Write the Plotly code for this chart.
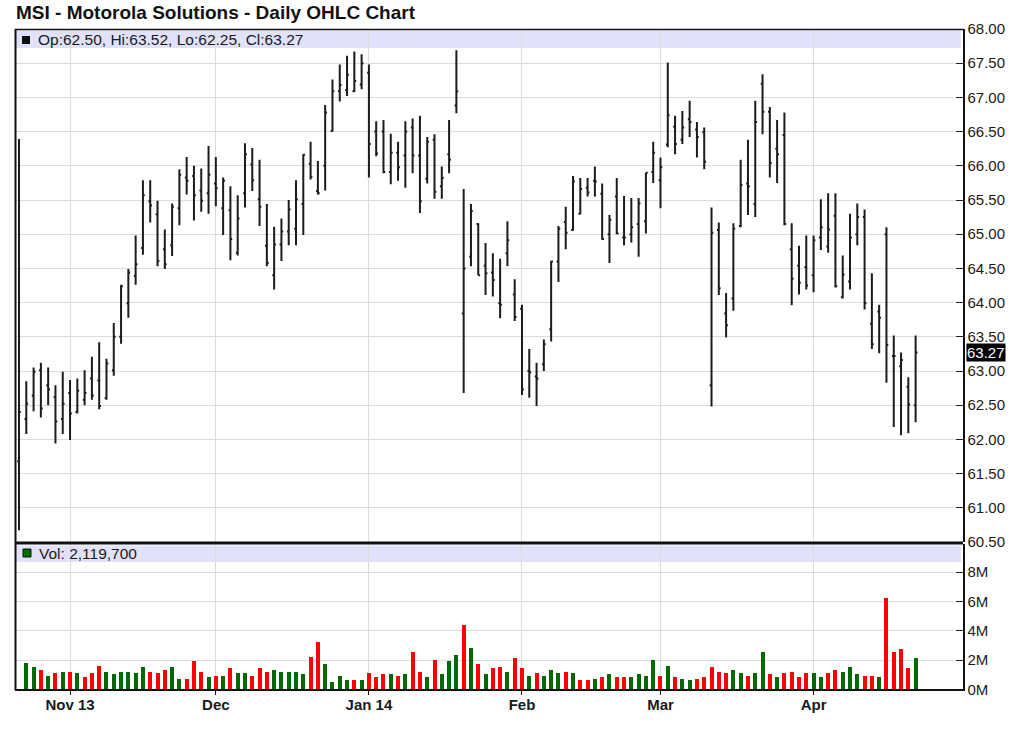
import plotly.graph_objects as go
import pandas as pd

# ---------------- data ----------------
holidays = ["2013-11-28", "2013-12-25", "2014-01-01", "2014-01-20", "2014-02-17", "2014-04-18"]
dates = pd.bdate_range("2013-10-23", "2014-04-22", freq="C", holidays=holidays)

opens = [61.68, 62.30, 62.64, 63.01, 62.79, 62.62, 62.30, 62.68, 62.40, 62.58,
         62.89, 62.86, 62.60, 63.01, 63.50, 63.99, 64.39, 64.80, 65.48, 65.29,
         64.78, 64.84, 65.38, 65.83, 65.85, 65.64, 65.60, 65.74, 65.38, 65.35,
         64.73, 65.60, 66.02, 65.51, 64.83, 64.40, 64.85, 65.04, 65.08, 65.44,
         66.03, 65.63, 66.00, 66.51, 67.09, 67.11, 67.09, 67.19, 67.36, 66.50,
         66.50, 65.91, 66.19, 66.15, 66.56, 66.15, 65.81, 66.38, 65.70, 66.17,
         66.88, 63.84, 64.67, 65.15, 64.54, 64.44, 63.99, 64.72, 64.12, 63.91,
         63.00, 62.92, 63.10, 63.61, 64.60, 65.18, 65.06, 65.30, 65.68, 65.78,
         65.59, 65.00, 65.55, 64.95, 65.00, 65.15, 65.19, 65.91, 65.79, 66.31,
         66.57, 66.38, 66.68, 66.53, 66.49, 62.79, 65.06, 63.84, 64.06, 65.12,
         65.74, 65.44, 67.20, 66.79, 66.25, 66.45, 64.78, 64.54, 64.52, 64.40,
         64.95, 64.82, 65.27, 64.08, 64.31, 65.00, 65.25, 63.69, 63.87, 65.00,
         63.22, 63.07, 62.77, 62.50]
highs = [66.39, 62.85, 63.05, 63.12, 63.05, 62.79, 62.99, 62.87, 62.89, 63.01,
         63.21, 63.42, 63.18, 63.70, 64.26, 64.49, 64.98, 65.79, 65.79, 65.49,
         65.07, 65.45, 65.95, 66.13, 66.00, 65.96, 66.29, 66.13, 65.83, 65.70,
         65.57, 66.33, 66.26, 66.09, 65.44, 65.11, 65.23, 65.50, 65.79, 66.17,
         66.35, 66.07, 66.89, 67.26, 67.48, 67.61, 67.67, 67.63, 67.48, 66.65,
         66.67, 66.47, 66.35, 66.65, 66.69, 66.73, 66.42, 66.46, 65.99, 66.67,
         67.69, 65.66, 65.44, 65.16, 64.87, 64.72, 64.64, 65.19, 64.34, 63.97,
         63.32, 63.12, 63.46, 64.61, 65.12, 65.40, 65.85, 65.82, 65.82, 65.99,
         65.74, 65.28, 65.82, 65.56, 65.53, 65.53, 65.90, 66.35, 66.12, 67.51,
         66.73, 66.80, 66.95, 66.64, 66.56, 65.39, 65.17, 64.14, 65.16, 66.09,
         66.38, 66.95, 67.34, 66.86, 66.67, 66.78, 65.16, 64.83, 64.98, 64.98,
         65.51, 65.60, 65.60, 64.69, 65.30, 65.45, 65.36, 64.43, 63.97, 65.10,
         63.52, 63.27, 62.91, 63.52]
lows = [60.67, 62.08, 62.41, 62.32, 62.50, 61.94, 62.08, 61.99, 62.38, 62.50,
        62.58, 62.44, 62.58, 62.93, 63.40, 63.78, 64.26, 64.70, 65.17, 64.53,
        64.49, 64.68, 65.13, 65.58, 65.20, 65.33, 65.30, 65.41, 64.99, 64.62,
        64.69, 65.39, 65.63, 65.12, 64.53, 64.19, 64.61, 64.84, 64.84, 64.99,
        65.80, 65.58, 65.64, 66.50, 66.94, 67.02, 67.08, 67.12, 65.83, 66.14,
        65.89, 65.73, 65.78, 65.68, 65.89, 65.31, 65.74, 65.52, 65.52, 65.89,
        66.77, 62.68, 64.53, 64.40, 64.11, 64.09, 63.77, 64.53, 63.73, 62.65,
        62.61, 62.49, 63.00, 63.43, 64.30, 64.78, 65.05, 65.29, 65.55, 65.55,
        64.92, 64.58, 65.00, 64.84, 64.88, 64.67, 65.01, 65.75, 65.38, 66.27,
        66.17, 66.32, 66.42, 66.12, 65.95, 62.48, 64.11, 63.49, 63.88, 65.10,
        65.28, 65.25, 66.46, 65.83, 65.75, 65.13, 63.96, 64.12, 64.19, 64.15,
        64.77, 64.73, 64.22, 64.06, 64.19, 64.84, 63.90, 63.32, 63.26, 62.83,
        62.18, 62.06, 62.09, 62.25]
closes = [62.40, 62.52, 62.99, 62.45, 62.73, 62.26, 62.52, 62.38, 62.71, 62.68,
          62.64, 62.49, 63.11, 63.50, 64.24, 64.44, 64.56, 65.57, 65.42, 64.61,
          64.56, 65.40, 65.87, 65.78, 65.57, 65.49, 65.87, 65.67, 65.78, 64.93,
          65.23, 66.17, 65.79, 65.40, 64.58, 64.85, 65.04, 65.36, 65.51, 66.16,
          65.84, 65.60, 66.78, 67.09, 67.18, 67.33, 67.24, 67.50, 66.32, 66.18,
          65.91, 66.19, 65.98, 66.50, 66.15, 65.48, 66.35, 65.62, 65.82, 66.09,
          67.09, 64.50, 65.34, 64.40, 64.43, 64.33, 63.97, 64.91, 63.79, 62.73,
          62.98, 62.89, 63.39, 64.60, 65.08, 65.02, 65.77, 65.66, 65.61, 65.77,
          64.93, 65.21, 65.01, 64.95, 65.10, 65.45, 65.90, 66.19, 65.98, 66.74,
          66.32, 66.56, 66.64, 66.42, 66.06, 65.02, 64.21, 63.67, 65.08, 65.72,
          65.70, 66.64, 66.79, 66.04, 66.17, 65.15, 64.35, 64.29, 64.25, 64.91,
          65.10, 65.07, 64.24, 64.41, 64.95, 65.25, 63.99, 63.39, 63.78, 63.38,
          63.22, 63.16, 62.51, 63.27]
volume_m = [0.00, 1.82, 1.52, 1.32, 0.93, 1.11, 1.20, 1.20, 1.11, 0.82,
            1.11, 1.61, 1.20, 1.02, 1.20, 1.20, 1.11, 1.52, 1.20, 1.11,
            1.32, 1.52, 0.73, 0.73, 1.93, 1.20, 0.82, 0.91, 0.91, 1.43,
            1.11, 1.11, 0.91, 1.43, 1.20, 1.32, 1.20, 1.20, 1.20, 1.02,
            2.23, 3.20, 1.70, 0.52, 0.91, 0.61, 0.61, 0.61, 1.11, 0.82,
            1.02, 1.02, 0.91, 1.02, 2.52, 1.20, 0.82, 2.02, 1.02, 1.93,
            2.32, 4.41, 2.82, 1.73, 1.02, 1.43, 1.52, 1.20, 2.11, 1.43,
            0.93, 1.11, 0.93, 1.32, 1.11, 1.20, 1.11, 0.61, 0.61, 0.73,
            0.82, 1.02, 0.82, 0.82, 0.82, 1.02, 0.91, 2.02, 0.91, 1.61,
            0.82, 0.73, 0.61, 0.73, 0.82, 1.52, 1.20, 1.11, 1.32, 1.11,
            0.91, 1.11, 2.52, 1.02, 0.82, 1.11, 1.20, 0.82, 1.11, 1.11,
            0.82, 1.11, 1.32, 1.20, 1.52, 1.02, 0.91, 0.91, 0.82, 6.27,
            2.52, 2.73, 1.43, 2.1197]

month_labels = ["Nov 13", "Dec", "Jan 14", "Feb", "Mar", "Apr"]
price_ticks = [60.5 + 0.5 * k for k in range(16)]
vol_ticks = [0, 2, 4, 6, 8]

# ---------------- derived ----------------
idx = list(range(len(dates)))
month_pos = [i for i in range(1, len(dates)) if dates[i].month != dates[i - 1].month]

GREEN = "#006a00"
RED = "#ff0000"
vol_colors = [GREEN] + [GREEN if closes[i] >= closes[i - 1] else RED for i in range(1, len(closes))]

W, H = 1024, 749
def px(x):
    return x / W
def py(y):
    return 1 - y / H

FONT = "Liberation Sans, Arial, sans-serif"
GRID = "#dcdcdc"
TXT = "#1a1a1a"

fig = go.Figure()
fig.add_trace(go.Ohlc(
    x=idx, open=opens, high=highs, low=lows, close=closes,
    increasing=dict(line=dict(color="#1c1c1c", width=2)),
    decreasing=dict(line=dict(color="#1c1c1c", width=2)),
    tickwidth=0.25, xaxis="x", yaxis="y", hoverinfo="skip", showlegend=False))
fig.add_trace(go.Bar(
    x=idx, y=volume_m, marker=dict(color=vol_colors, line=dict(width=0)),
    width=0.55, xaxis="x2", yaxis="y2", hoverinfo="skip", showlegend=False))

xdom = [px(15), px(963)]
xrange_ = [-0.55, 129.5]
fig.update_layout(
    width=W, height=H, margin=dict(l=0, r=0, t=0, b=0, autoexpand=False),
    paper_bgcolor="white", plot_bgcolor="rgba(0,0,0,0)",
    xaxis=dict(domain=xdom, range=xrange_, anchor="y", tickvals=month_pos,
               showticklabels=False, ticks="", showgrid=True, gridcolor=GRID,
               gridwidth=1, zeroline=False, showline=False,
               rangeslider=dict(visible=False)),
    xaxis2=dict(domain=xdom, range=xrange_, anchor="y2", matches="x",
                tickvals=month_pos, ticktext=month_labels, ticks="outside",
                ticklen=4, tickcolor="#111", tickwidth=1, showgrid=True,
                gridcolor=GRID, gridwidth=1, zeroline=False, showline=True,
                linecolor="#111", linewidth=2, rangeslider=dict(visible=False),
                ticklabelstandoff=-3,
                tickfont=dict(family=FONT, size=15, color=TXT, weight="bold")),
    yaxis=dict(domain=[py(542), py(29)], range=[60.5, 68.0], anchor="x",
               side="right", tickvals=price_ticks,
               ticktext=[f"{v:.2f}" for v in price_ticks],
               ticks="inside", ticklen=7, tickcolor="#222", tickwidth=1,
               showgrid=True, gridcolor=GRID, gridwidth=1, zeroline=False,
               showline=True, linecolor="#111", linewidth=1.5,
               tickfont=dict(family=FONT, size=15, color=TXT)),
    yaxis2=dict(domain=[py(689.3), py(544)], range=[0, 9.93], anchor="x2",
                side="right", tickvals=vol_ticks,
                ticktext=[f"{v}M" for v in vol_ticks],
                ticks="inside", ticklen=7, tickcolor="#222", tickwidth=1,
                showgrid=True, gridcolor=GRID, gridwidth=1, zeroline=False,
                showline=True, linecolor="#111", linewidth=1.5,
                tickfont=dict(family=FONT, size=15, color=TXT)),
    bargap=0,
)

shapes = [
    # header bands
    dict(type="rect", xref="paper", yref="paper", x0=px(16), x1=px(961),
         y0=py(48), y1=py(30.5), fillcolor="#e1e1f9", line=dict(width=0), layer="below"),
    dict(type="rect", xref="paper", yref="paper", x0=px(16), x1=px(961),
         y0=py(562), y1=py(545.5), fillcolor="#e1e1f9", line=dict(width=0), layer="below"),
    # borders
    dict(type="line", xref="paper", yref="paper", x0=px(15), x1=px(963),
         y0=py(29.5), y1=py(29.5), line=dict(color="#111", width=1.5)),
    dict(type="line", xref="paper", yref="paper", x0=px(15.5), x1=px(15.5),
         y0=py(29), y1=py(690), line=dict(color="#111", width=2)),
    dict(type="line", xref="paper", yref="paper", x0=px(15), x1=px(963),
         y0=py(543), y1=py(543), line=dict(color="#111", width=3)),
    # legend squares
    dict(type="rect", xref="paper", yref="paper", x0=px(22), x1=px(30),
         y0=py(44), y1=py(36), fillcolor="#111", line=dict(width=0)),
    dict(type="rect", xref="paper", yref="paper", x0=px(23), x1=px(31),
         y0=py(557), y1=py(549), fillcolor=GREEN, line=dict(color="#111", width=1)),
]
fig.update_layout(shapes=shapes)

last = len(closes) - 1
annotations = [
    dict(text="MSI - Motorola Solutions - Daily OHLC Chart", xref="paper", yref="paper",
         x=px(14), y=py(13), xanchor="left", yanchor="middle", showarrow=False,
         font=dict(family=FONT, size=19, color="#111", weight="bold")),
    dict(text=f"Op:{opens[last]:.2f}, Hi:{highs[last]:.2f}, Lo:{lows[last]:.2f}, Cl:{closes[last]:.2f}",
         xref="paper", yref="paper", x=px(36), y=py(40), xanchor="left", yanchor="middle",
         showarrow=False, font=dict(family=FONT, size=15.5, color=TXT)),
    dict(text=f"Vol: {round(volume_m[last] * 1e6):,}", xref="paper", yref="paper",
         x=px(37), y=py(553), xanchor="left", yanchor="middle", showarrow=False,
         font=dict(family=FONT, size=15.5, color=TXT)),
    dict(text=f"{closes[last]:.2f}", xref="paper", yref="y", x=px(966), y=closes[last],
         xanchor="left", yanchor="middle", showarrow=False, bgcolor="#000",
         borderpad=0, font=dict(family=FONT, size=15, color="#fff")),
]
fig.update_layout(annotations=annotations)

fig.write_html("out.html", config={"displayModeBar": False, "staticPlot": True},
               post_script="document.body.style.margin='0';document.body.style.overflow='hidden';")
